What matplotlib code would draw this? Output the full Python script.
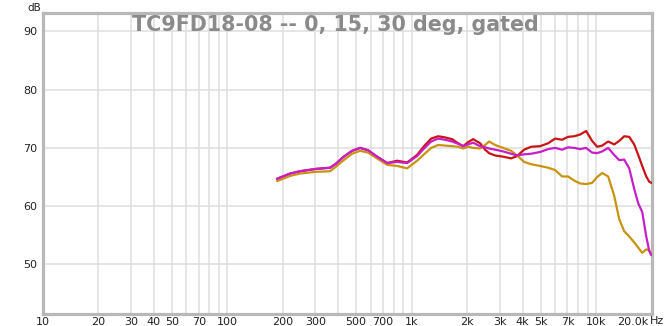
import numpy as np
import matplotlib
matplotlib.use("Agg")
import matplotlib.pyplot as plt
from matplotlib.ticker import FixedLocator, NullLocator
import matplotlib.transforms as mtransforms

# ---------------- data ----------------
freq_hz = [186, 219, 248, 303, 361, 389, 424, 475, 525, 580, 649, 736, 834, 945, 1070,
           1167, 1275, 1392, 1518, 1657, 1786, 1902, 2025, 2155, 2351, 2502, 2630,
           2837, 3135, 3462, 3733, 4074, 4446, 4977, 5500, 6004, 6550, 7057, 7609,
           8199, 8840, 9526, 10140, 10800, 11640, 12550, 13360, 14220, 15140, 16110,
           16940, 17810, 18730, 19450, 19950]

deg0_db = [64.7, 65.6, 66.0, 66.4, 66.6, 67.3, 68.4, 69.5, 70.0, 69.6, 68.5, 67.4, 67.8,
           67.5, 68.8, 70.3, 71.6, 72.0, 71.8, 71.5, 70.8, 70.3, 71.0, 71.5, 70.8,
           69.7, 69.1, 68.7, 68.5, 68.2, 68.6, 69.7, 70.2, 70.3, 70.8, 71.6, 71.4,
           71.9, 72.0, 72.3, 72.9, 71.2, 70.2, 70.4, 71.1, 70.6, 71.2, 72.0, 71.9,
           70.6, 68.8, 66.9, 65.1, 64.2, 64.0]

deg15_db = [64.7, 65.6, 66.0, 66.4, 66.6, 67.3, 68.4, 69.5, 70.0, 69.6, 68.5, 67.4, 67.6,
            67.4, 68.6, 69.9, 71.1, 71.6, 71.4, 71.1, 70.7, 70.3, 70.6, 70.9, 70.3,
            70.1, 69.9, 69.7, 69.4, 69.0, 68.7, 68.9, 69.0, 69.3, 69.8, 70.0, 69.7,
            70.1, 70.0, 69.8, 70.0, 69.2, 69.1, 69.4, 70.0, 68.8, 67.9, 68.0, 66.5,
            63.0, 60.5, 59.0, 54.8, 52.3, 51.6]

deg30_db = [64.3, 65.2, 65.6, 65.9, 66.0, 66.8, 67.8, 69.0, 69.5, 69.2, 68.2, 67.1, 66.9,
            66.5, 67.8, 68.9, 70.0, 70.5, 70.4, 70.3, 70.2, 69.9, 70.2, 70.0, 69.9,
            70.5, 71.1, 70.5, 70.0, 69.5, 68.7, 67.6, 67.2, 66.9, 66.6, 66.2, 65.1,
            65.1, 64.4, 63.9, 63.8, 64.0, 65.0, 65.7, 65.1, 61.8, 57.8, 55.7, 54.8,
            53.8, 52.9, 52.0, 52.6, 52.4, 51.8]

xtick_vals = [10, 20, 30, 40, 50, 70, 100, 200, 300, 500, 700, 1000, 2000, 3000,
              4000, 5000, 7000, 10000, 20000]
xtick_labels = ["10", "20", "30", "40", "50", "70", "100", "200", "300", "500", "700",
                "1k", "2k", "3k", "4k", "5k", "7k", "10k", "20.0k"]
ytick_vals = [50, 60, 70, 80, 90]
title_text = "TC9FD18-08 -- 0, 15, 30 deg, gated"

# ---------------- figure ----------------
W, H, DPI = 671, 326, 100
fig = plt.figure(figsize=(W / DPI, H / DPI), dpi=DPI)
left, right, top, bottom = 43, 651.5, 13.3, 314
ax = fig.add_axes([left / W, 1 - bottom / H, (right - left) / W, (bottom - top) / H])

ax.set_xscale("log")
ax.set_xlim(10, 20000)
ax.set_ylim(41.5, 93.1)

# grid lines
grid_x = []
for dec in [10, 100, 1000, 10000]:
    for m in range(1, 10):
        v = dec * m
        if 10 < v < 20000:
            grid_x.append(v)
for v in grid_x:
    ax.axvline(v, color="#dedede", lw=1.1, zorder=0)
for v in ytick_vals:
    ax.axhline(v, color="#dedede", lw=1.1, zorder=0)

lw = 1.6
ax.plot(freq_hz, deg0_db, color="#c81414", lw=lw, zorder=3, solid_capstyle="round",
        solid_joinstyle="round")
ax.plot(freq_hz, deg30_db, color="#c8940f", lw=lw, zorder=4, solid_capstyle="round",
        solid_joinstyle="round")
ax.plot(freq_hz, deg15_db, color="#c81ec8", lw=lw, zorder=5, solid_capstyle="round",
        solid_joinstyle="round")

ax.xaxis.set_major_locator(FixedLocator(xtick_vals))
ax.xaxis.set_minor_locator(NullLocator())
ax.set_xticklabels(xtick_labels)
ax.set_yticks(ytick_vals)
ax.set_yticklabels([str(v) for v in ytick_vals])
ax.tick_params(axis="both", length=0, labelsize=8, colors="#222222")
ax.tick_params(axis="x", pad=2.5)
ax.tick_params(axis="y", pad=4)

# last x label right aligned (room for "Hz")
lbls = ax.get_xticklabels()
lbls[-1].set_horizontalalignment("right")
lbls[-1].set_transform(lbls[-1].get_transform() +
                       mtransforms.ScaledTranslation(-3 / DPI, 0, fig.dpi_scale_trans))

for s in ax.spines.values():
    s.set_color("#b8b8b8")
    s.set_linewidth(2.3)

fig.text(650 / W, 1 - 321 / H, "Hz", fontsize=8, color="#222222", ha="left", va="center")
fig.text(27 / W, 1 - 8 / H, "dB", fontsize=7.5, color="#222222", ha="left", va="center")

# title fitted to measured width
t = fig.text(335 / W, 1 - 31 / H, title_text, fontsize=14, fontweight="bold",
             color="#8a8a8a", ha="center", va="baseline", zorder=10)
fig.canvas.draw()
bb = t.get_window_extent()
t.set_fontsize(14 * 408 / bb.width)

fig.savefig("out.png", dpi=DPI)
